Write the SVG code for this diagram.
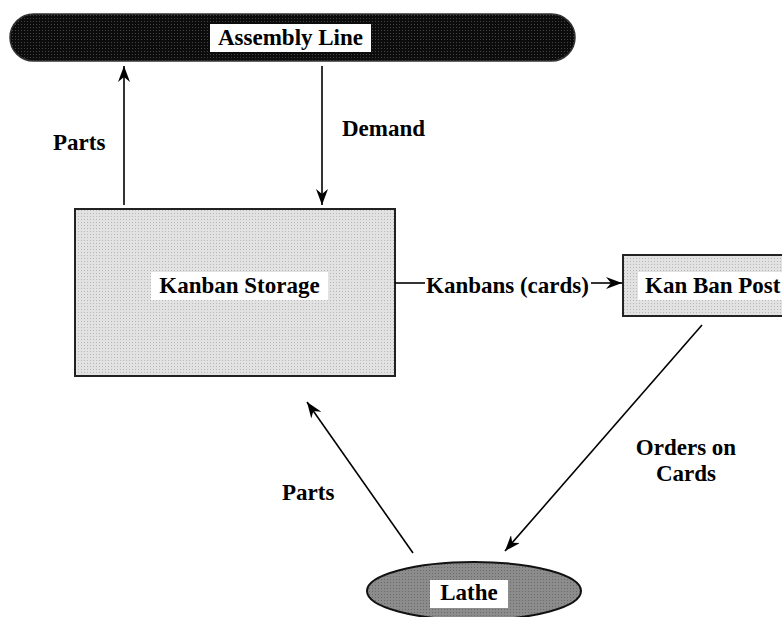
<svg xmlns="http://www.w3.org/2000/svg" width="782" height="617" viewBox="0 0 782 617">
  <defs>
    <marker id="arr" markerUnits="userSpaceOnUse" markerWidth="16" markerHeight="12" viewBox="0 0 16 12" refX="16" refY="6" orient="auto">
      <path d="M0,0 L16,6 L0,12 L5,6 z" fill="#000"/>
    </marker>
    <pattern id="dotsLight" width="3" height="3" patternUnits="userSpaceOnUse">
      <rect width="3" height="3" fill="#e2e2e2"/>
      <rect width="1" height="1" fill="#b8b8b8"/>
    </pattern>
    <pattern id="dotsDark" width="3" height="3" patternUnits="userSpaceOnUse">
      <rect width="3" height="3" fill="#0c0c0c"/>
      <rect width="1" height="1" fill="#444"/>
    </pattern>
    <pattern id="dotsMid" width="3" height="3" patternUnits="userSpaceOnUse">
      <rect width="3" height="3" fill="#8c8c8c"/>
      <rect width="1" height="1" fill="#6a6a6a"/>
    </pattern>
  </defs>
  <style>
    .lbl { font-family: "Liberation Serif", "Times New Roman", serif; font-weight: bold; font-size: 23px; fill: #000; }
    .edge { stroke: #000; stroke-width: 1.6; fill: none; }
    .box { stroke: #222; stroke-width: 2; }
    .tag { fill: #fff; }
  </style>
  <rect width="782" height="617" fill="#fff"/>

  <g id="assembly-line">
    <rect x="10" y="14" width="565" height="47" rx="23.5" ry="23.5" fill="url(#dotsDark)" stroke="#333" stroke-width="1.5"/>
    <rect class="tag" x="210" y="24" width="161" height="28"/>
    <text class="lbl" x="290.5" y="45" text-anchor="middle">Assembly Line</text>
  </g>

  <g id="kanban-storage">
    <rect class="box" x="75" y="209" width="320" height="167" fill="url(#dotsLight)"/>
    <rect class="tag" x="151" y="272" width="177" height="28"/>
    <text class="lbl" x="239.5" y="293" text-anchor="middle">Kanban Storage</text>
  </g>

  <g id="kan-ban-post">
    <rect class="box" x="623" y="255" width="180" height="61" fill="url(#dotsLight)"/>
    <rect class="tag" x="638" y="272" width="150" height="28"/>
    <text class="lbl" x="645" y="293">Kan Ban Post</text>
  </g>

  <g id="lathe">
    <ellipse cx="474" cy="591" rx="107" ry="29" fill="url(#dotsMid)" stroke="#111" stroke-width="2"/>
    <rect class="tag" x="430" y="580" width="78" height="28"/>
    <text class="lbl" x="469" y="600" text-anchor="middle">Lathe</text>
  </g>

  <g id="connectors">
    <line class="edge" x1="124" y1="205" x2="124" y2="66" marker-end="url(#arr)"/>
    <text class="lbl" x="53" y="150">Parts</text>

    <line class="edge" x1="322" y1="66" x2="322" y2="205" marker-end="url(#arr)"/>
    <text class="lbl" x="342" y="136">Demand</text>

    <line class="edge" x1="395" y1="283" x2="425" y2="283"/>
    <text class="lbl" x="426" y="293">Kanbans (cards)</text>
    <line class="edge" x1="591" y1="283" x2="622" y2="283" marker-end="url(#arr)"/>

    <line class="edge" x1="702" y1="325" x2="505" y2="551" marker-end="url(#arr)"/>
    <text class="lbl" x="686" y="455" text-anchor="middle">Orders on</text>
    <text class="lbl" x="686" y="481" text-anchor="middle">Cards</text>

    <line class="edge" x1="413" y1="553" x2="307" y2="402" marker-end="url(#arr)"/>
    <text class="lbl" x="282" y="500">Parts</text>
  </g>
</svg>
